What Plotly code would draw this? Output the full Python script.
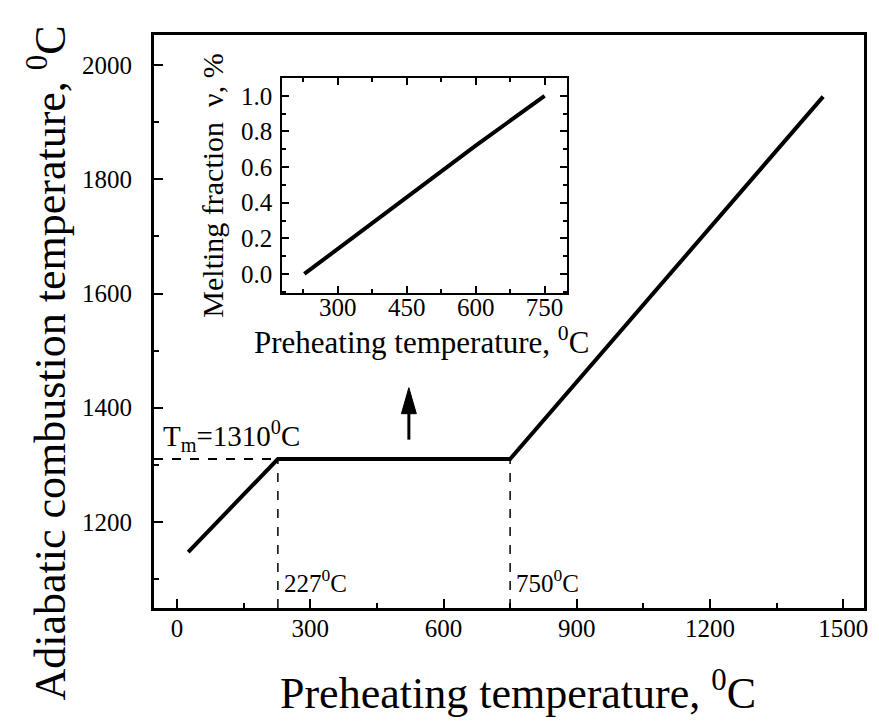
import plotly.graph_objects as go

# ---------------- data ----------------
main_x = [25, 227, 750, 1455]            # preheating temperature, °C
main_y = [1147, 1310, 1310, 1945]        # adiabatic combustion temperature, °C
t_melt = 1310                            # Tm
t_start = 227                            # start of melting plateau
t_end = 750                              # end of melting plateau

inset_x = [227, 300, 450, 600, 750]      # preheating temperature, °C
inset_y = [0.0, 0.14, 0.43, 0.72, 1.0]   # melting fraction

arrow_x = 522
arrow_y = [1344, 1435]                   # tail, tip

main_xticks = [0, 300, 600, 900, 1200, 1500]
main_yticks = [1200, 1400, 1600, 1800, 2000]
inset_xticks = [300, 450, 600, 750]
inset_yticks = [0.0, 0.2, 0.4, 0.6, 0.8, 1.0]

# ---------------- layout constants ----------------
W, H = 879, 727
ML, MR, MT, MB = 154, 11, 35, 119
XR = [-52, 1547]
YR = [1049, 2053]
FONT = "Liberation Serif"
PW, PH = W - ML - MR, H - MT - MB


def px_to_paper(px, py):
    return (px - ML) / PW, (H - MB - py) / PH


fig = go.Figure()

# main curve
fig.add_trace(go.Scatter(x=main_x, y=main_y, mode="lines",
                         line=dict(color="black", width=4),
                         showlegend=False, hoverinfo="skip"))
# Tm dashed horizontal
fig.add_trace(go.Scatter(x=[XR[0], t_start], y=[t_melt, t_melt], mode="lines",
                         line=dict(color="black", width=2, dash="dash"),
                         showlegend=False, hoverinfo="skip"))
# vertical dashed lines
for xv in (t_start, t_end):
    fig.add_trace(go.Scatter(x=[xv, xv], y=[YR[0], t_melt], mode="lines",
                             line=dict(color="black", width=1.5, dash="dash"),
                             showlegend=False, hoverinfo="skip"))

# arrow: shaft + head
head_len = 26 / (PH / (YR[1] - YR[0]))
head_half = 7.5 / (PW / (XR[1] - XR[0]))
fig.add_trace(go.Scatter(x=[arrow_x, arrow_x], y=[arrow_y[0], arrow_y[1] - head_len],
                         mode="lines", line=dict(color="black", width=3),
                         showlegend=False, hoverinfo="skip"))
fig.add_trace(go.Scatter(x=[arrow_x - head_half, arrow_x + head_half, arrow_x, arrow_x - head_half],
                         y=[arrow_y[1] - head_len, arrow_y[1] - head_len, arrow_y[1], arrow_y[1] - head_len],
                         mode="lines", fill="toself", fillcolor="black",
                         line=dict(color="black", width=1),
                         showlegend=False, hoverinfo="skip"))

# inset curve
fig.add_trace(go.Scatter(x=inset_x, y=inset_y, mode="lines", xaxis="x2", yaxis="y2",
                         line=dict(color="black", width=4),
                         showlegend=False, hoverinfo="skip"))

ix0, iy1 = px_to_paper(283, 78)
ix1, iy0 = px_to_paper(569, 293)

axis_common = dict(showgrid=False, zeroline=False, showline=True, linecolor="black",
                   ticks="inside", tickcolor="black")

fig.update_layout(
    width=W, height=H,
    margin=dict(l=ML, r=MR, t=MT, b=MB, pad=0),
    paper_bgcolor="white", plot_bgcolor="white",
    font=dict(family=FONT, color="black"),
    xaxis=dict(range=XR, tickvals=main_xticks, linewidth=3, mirror=True,
               ticklen=9, tickwidth=2,
               minor=dict(ticks="inside", dtick=150, tick0=0, ticklen=5, tickwidth=2, tickcolor="black"),
               tickfont=dict(size=25, family=FONT), ticklabelstandoff=-4,
               **axis_common),
    yaxis=dict(range=YR, tickvals=main_yticks, linewidth=3, mirror=True,
               ticklen=9, tickwidth=2,
               minor=dict(ticks="inside", dtick=100, tick0=0, ticklen=5, tickwidth=2, tickcolor="black"),
               tickfont=dict(size=25, family=FONT), ticklabelstandoff=14,
               **axis_common),
    xaxis2=dict(domain=[ix0, ix1], anchor="y2", range=[179, 798], tickvals=inset_xticks,
                linewidth=2, mirror="ticks", ticklen=7, tickwidth=2,
                minor=dict(ticks="inside", dtick=75, tick0=0, ticklen=4, tickwidth=1.5, tickcolor="black"),
                tickfont=dict(size=25, family=FONT), ticklabelstandoff=-9,
                **axis_common),
    yaxis2=dict(domain=[iy0, iy1], anchor="x2", range=[-0.107, 1.10], tickvals=inset_yticks,
                tickformat=".1f",
                linewidth=2, mirror="ticks", ticklen=7, tickwidth=2,
                minor=dict(ticks="inside", dtick=0.1, tick0=0, ticklen=4, tickwidth=1.5, tickcolor="black"),
                tickfont=dict(size=25, family=FONT), ticklabelstandoff=3,
                **axis_common),
)

ann = []
# main axis titles
x, y = px_to_paper(46, 363)
ann.append(dict(x=x, y=y, xref="paper", yref="paper", showarrow=False, textangle=-90,
                text="Adiabatic combustion temperature, <sup>0</sup>C",
                font=dict(size=44, family=FONT), xanchor="center", yanchor="middle"))
x, y = px_to_paper(520, 690)
ann.append(dict(x=x, y=y, xref="paper", yref="paper", showarrow=False,
                text="Preheating temperature, <sup>0</sup>C",
                font=dict(size=44, family=FONT), xanchor="center", yanchor="middle"))
# inset axis titles
x, y = px_to_paper(212, 186)
ann.append(dict(x=x, y=y, xref="paper", yref="paper", showarrow=False, textangle=-90,
                text="Melting fraction  ν, %",
                font=dict(size=30, family=FONT), xanchor="center", yanchor="middle"))
x, y = px_to_paper(423, 340)
ann.append(dict(x=x, y=y, xref="paper", yref="paper", showarrow=False,
                text="Preheating temperature, <sup>0</sup>C",
                font=dict(size=31, family=FONT), xanchor="center", yanchor="middle"))
# Tm label
x, y = px_to_paper(161, 436)
ann.append(dict(x=x, y=y, xref="paper", yref="paper", showarrow=False,
                text="T<sub>m</sub>=1310<sup>0</sup>C",
                font=dict(size=29, family=FONT), xanchor="left", yanchor="middle"))
# plateau labels
_, y = px_to_paper(0, 581)
for xv, label in ((t_start, "227<sup>0</sup>C"), (t_end, "750<sup>0</sup>C")):
    ann.append(dict(x=xv, y=y, xref="x", yref="paper", showarrow=False, xshift=4,
                    text=label, font=dict(size=25, family=FONT),
                    xanchor="left", yanchor="middle"))

fig.update_layout(annotations=ann)

fig.write_html("out.html")
